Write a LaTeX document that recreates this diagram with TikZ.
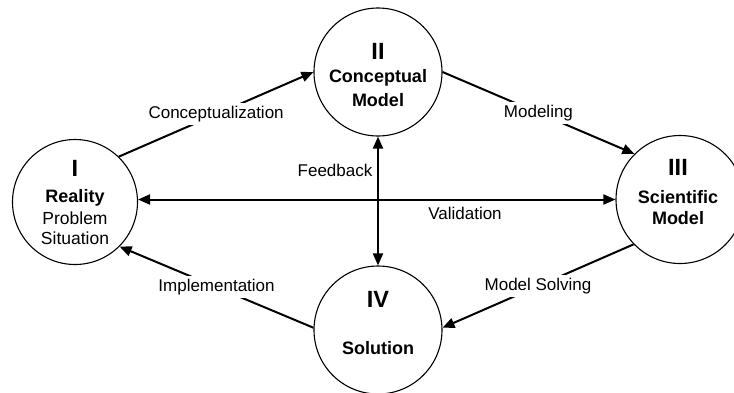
\documentclass[tikz,border=0pt]{standalone}
\usepackage{fontspec}
\setmainfont{Liberation Sans}
\usetikzlibrary{arrows.meta}
\begin{document}
\begin{tikzpicture}[x=1pt,y=-1pt,
  stage/.style={circle,draw,line width=1.1pt,minimum size=128pt,inner sep=0pt},
  numeral/.style={font=\fontsize{23.5}{23.5}\selectfont\bfseries,inner sep=0pt},
  stagetitle/.style={font=\fontsize{18}{18}\selectfont\bfseries,inner sep=0pt},
  stagetext/.style={font=\fontsize{17.5}{17.5}\selectfont,inner sep=0pt},
  flow/.style={line width=2pt,-{Triangle[length=12pt,width=10pt]}},
  twoway/.style={line width=2pt,{Triangle[length=12pt,width=10pt]}-{Triangle[length=12pt,width=10pt]}},
  flowlabel/.style={font=\fontsize{17}{17}\selectfont,fill=white,inner sep=3pt},
  sidelabel/.style={font=\fontsize{17}{17}\selectfont,inner sep=0pt}]
\useasboundingbox (0,0) rectangle (734,392);
\clip (0,0) rectangle (734,392);

% the four stages
\node[stage,minimum size=125pt] (I)  at (75,202)  {};
\node[stage] (II)  at (378,72)  {};
\node[stage] (III) at (680,199.5) {};
\node[stage] (IV)  at (378,330) {};

% stage I
\node[numeral]    (I-num)  at (75,168) {I};
\node[stagetitle] (I-t1)   at (75,198) {Reality};
\node[stagetext]  (I-t2)   at (75,218) {Problem};
\node[stagetext]  (I-t3)   at (75,238) {Situation};

% stage II
\node[numeral]    (II-num) at (378,51)  {II};
\node[stagetitle] (II-t1)  at (378,78)  {Conceptual};
\node[stagetitle] (II-t2)  at (378,100) {Model};

% stage III
\node[numeral]    (III-num) at (678,167) {III};
\node[stagetitle] (III-t1)  at (678,197) {Scientific};
\node[stagetitle] (III-t2)  at (678,218) {Model};

% stage IV
\node[numeral]    (IV-num) at (378,299) {IV};
\node[stagetitle] (IV-t1)  at (378,348) {Solution};

% transitions around the cycle
\draw[flow] (I.46) -- node[flowlabel] (lab-concept) {Conceptualization} (II.180);
\draw[flow] (II.0) -- node[flowlabel] (lab-model) {Modeling} (III.135);
\draw[flow] (III.224) -- node[flowlabel] (lab-solve) {Model Solving} (IV.2);
\draw[flow] (IV.178) -- node[flowlabel] (lab-impl) {Implementation} (I.-45);

% cross links
\draw[twoway] (I.east |- III.west) -- (III.west);
\draw[twoway] (II.south) -- (IV.north);
\node[sidelabel] (lab-valid) at (465,213) {Validation};
\node[sidelabel] (lab-feed)  at (335,170) {Feedback};
\end{tikzpicture}
\end{document}
